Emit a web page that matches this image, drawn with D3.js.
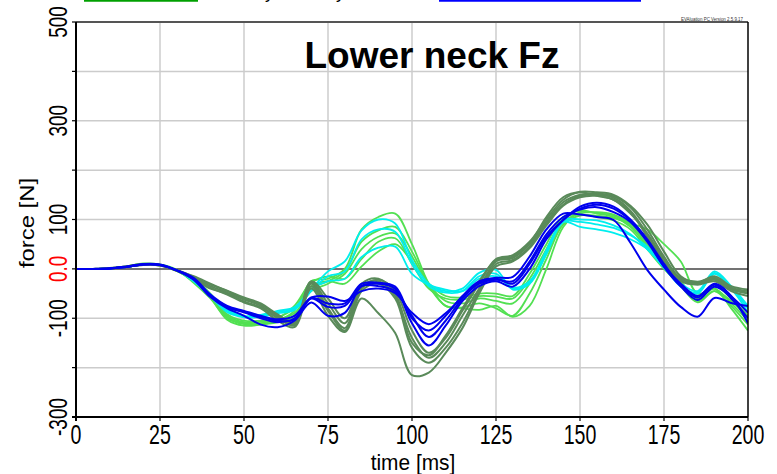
<!DOCTYPE html>
<html>
<head>
<meta charset="utf-8">
<script src="https://cdn.jsdelivr.net/npm/d3@7"></script>
<style>
  body { margin: 0; background: #fff; }
  svg { display: block; }
</style>
</head>
<body>
<div id="chart"></div>
<script>
// sample times [ms]
const time = [0, 5, 10, 15, 20, 25, 30, 35, 40, 45, 50, 55, 60, 65, 70, 75, 80, 85, 90, 95,
  100, 105, 110, 115, 120, 125, 130, 135, 140, 145, 150, 155, 160, 165, 170, 175, 180, 185, 190, 195, 200]

const xTicks = [0, 25, 50, 75, 100, 125, 150, 175, 200]
const yGrid = [-300, -200, -100, 0, 100, 200, 300, 400, 500]
const yTickLabels = [[500, '500'], [300, '300'], [100, '100'], [0, '0.0'], [-100, '-100'], [-300, '-300']]

// force [N], light green runs
const lightGreen = [
  [0,0,1,5,11,9,-2, -28,-60,-100,-112,-112,-105,-85,-25,-20,0, 80,105,112,50,-30,-75,-78,-70,-80,-95, -50,20,90,108,108,103,92,80,50,15, -50,-40,-80,-125],
  [0,0,1,5,10,8,-3, -26,-58,-103,-115,-113,-108,-95,-40,-25,-5, 55,78,85,35,-30,-65,-70,-60,-65,-70, -30,30,95,112,115,110,92,55,10,-25, -65,-45,-75,-113],
  [0,0,1,4,9,8,-4, -24,-55,-98,-110,-110,-103,-90,-45,-30,-10, 40,65,72,25,-35,-75,-80,-83,-75,-97, -75,0,85,115,113,108,88,50,5,-30, -60,-40,-70,-105],
  [0,0,1,4,9,8,-4, -22,-52,-95,-108,-107,-100,-75,-28,-15,-20, 20,55,62,10,-40,-60,-62,-55,-56,-60, -20,40,100,118,112,105,85,45,2,-35, -68,-45,-65,-100],
  [0,0,1,4,9,8,-3, -20,-50,-92,-105,-105,-98,-80,-35,-25,-30, 5,35,50,15,-30,-55,-58,-50,-50,-55, -10,50,105,110,105,98,80,40,0,-32, -55,-35,-60,-95],
]

const cyan = [
  [0,0,1,4,9,8,-3, -25,-55,-85,-97,-95,-88,-80,-42,-5,15, 78,100,92,18,-30,-45,-40,-8,-2,-42, -28,38,99,100,98,88,70,40,5,-35, -48,-8,-38,-80],
  [0,0,1,4,9,8,-3, -24,-55,-88,-98,-97,-90,-83,-45,-15,-5, 60,80,75,10,-35,-48,-45,-15,-10,-40, -30,30,95,95,90,83,68,45,4,-36, -50,-10,-40,-88],
  [0,0,1,4,9,8,-3, -22,-52,-82,-95,-93,-85,-78,-42,-25,-20, 24,43,45,-10,-32,-42,-45,-20,-15,-38, -25,35,95,85,80,73,60,40,2,-30, -45,-5,-35,-75],
]

const darkGreen = [
  [0,0,1,5,10,7,-3, -15,-30,-45,-60,-72,-95,-110,-30,-80,-120, -40,-22,-45,-125,-170,-140,-85,-30,20,28, 55,100,140,156,155,150,128,90,35,-15, -28,-15,-35,-42],
  [0,0,1,4,9,8,-3, -18,-35,-48,-62,-75,-100,-112,-28,-70,-110, -35,-25,-55,-140,-180,-150,-95,-40,15,22, 50,95,135,150,152,147,125,80,25,-20, -30,-20,-40,-48],
  [0,0,2,5,9,7,-4, -20,-40,-50,-66,-78,-98,-115,-35,-85,-125, -45,-30,-60,-160,-190,-160,-110,-45,10,18, 45,92,130,148,150,144,118,70,15,-25, -32,-25,-45,-55],
  [0,0,1,4,8,7,-2, -16,-32,-44,-58,-70,-92,-108,-25,-60,-100, -30,-20,-50,-150,-175,-135,-80,-25,18,25, 52,105,145,155,148,140,115,65,12,-18, -26,-18,-38,-45],
  [0,0,1,4,9,8,-4, -20,-38,-52,-68,-80,-105,-118,-40,-95,-128, -60,-90,-130,-215,-210,-170,-120,-50,5,15, 42,88,128,145,148,140,112,72,20,-22, -30,-22,-42,-50],
]

const blue = [
  [0,0,1,5,10,9,-3, -22,-57,-80,-95,-113,-118,-105,-68,-95,-89, -35,-30,-40,-110,-155,-115,-65,-35,-25,-36, 0,60,99,126,134,126,100,59,4,-36, -63,-36,-56,-89],
  [0,0,1,4,9,8,-3, -20,-55,-78,-88,-100,-108,-100,-60,-77,-75, -35,-35,-45,-95,-138,-105,-60,-28,-20,-30, 10,65,99,122,130,122,98,60,10,-33, -58,-32,-60,-100],
  [0,0,1,4,9,8,-3, -18,-52,-75,-85,-95,-102,-95,-58,-56,-65, -45,-40,-49,-89,-112,-90,-57,-30,-22,-25, 15,70,105,120,125,115,95,55,5,-30, -55,-30,-55,-110],
  [0,0,1,4,9,8,-3, -20,-55,-77,-87,-97,-105,-103,-59,-70,-70, -30,-28,-36,-100,-125,-95,-55,-25,-18,-16, 25,80,112,110,105,99,53,-2,-42,-77, -97,-59,-69,-75],
]

const groups = [
  { runs: lightGreen, color: '#52e052', width: 1.8 },
  { runs: cyan, color: '#00eeee', width: 1.8 },
  { runs: darkGreen, color: '#5a8a5a', width: 2 },
  { runs: blue, color: '#0000ee', width: 2 },
]

const W = 777, H = 474
const plotLeft = 76, plotRight = 748, plotTop = 22, plotBottom = 417

const svg = d3.select('#chart').append('svg').attr('width', W).attr('height', H)
  .style('font-family', '"Liberation Sans", Arial, sans-serif')

const x = d3.scaleLinear().domain([0, 200]).range([plotLeft, plotRight])
const y = d3.scaleLinear().domain([-300, 500]).range([plotBottom, plotTop])

// legend strokes peeking in at the top edge
svg.append('line').attr('x1', 84).attr('x2', 198).attr('y1', 0.5).attr('y2', 0.5)
  .attr('stroke', '#00a000').attr('stroke-width', 2.5)
svg.append('line').attr('x1', 439).attr('x2', 641).attr('y1', 0.5).attr('y2', 0.5)
  .attr('stroke', '#0000ff').attr('stroke-width', 2.5)
svg.append('text').attr('x', 274).attr('y', -2).attr('text-anchor', 'end')
  .attr('font-size', 18).text('dummy')
svg.append('text').attr('x', 345).attr('y', -2).attr('text-anchor', 'end')
  .attr('font-size', 18).text('dummy')

// grid
svg.append('g').selectAll('line').data(xTicks.slice(1, -1)).join('line')
  .attr('x1', d => x(d)).attr('x2', d => x(d)).attr('y1', plotTop).attr('y2', plotBottom)
  .attr('stroke', '#cccccc').attr('stroke-width', 1.5)
svg.append('g').selectAll('line').data(yGrid.filter(d => d !== 0 && d !== 500 && d !== -300)).join('line')
  .attr('x1', plotLeft).attr('x2', plotRight).attr('y1', d => y(d)).attr('y2', d => y(d))
  .attr('stroke', '#cccccc').attr('stroke-width', 1.5)
svg.append('line').attr('x1', plotLeft).attr('x2', plotRight).attr('y1', y(0)).attr('y2', y(0))
  .attr('stroke', '#444').attr('stroke-width', 1.5)

// curves
svg.append('clipPath').attr('id', 'plot').append('rect')
  .attr('x', plotLeft).attr('y', plotTop).attr('width', plotRight - plotLeft).attr('height', plotBottom - plotTop)

const line = d3.line()
  .x((d, i) => x(time[i]))
  .y(d => y(d))
  .curve(d3.curveCatmullRom.alpha(0.5))

const curves = svg.append('g').attr('clip-path', 'url(#plot)')
groups.forEach(g => {
  curves.append('g').selectAll('path').data(g.runs).join('path')
    .attr('d', line)
    .attr('fill', 'none')
    .attr('stroke', g.color)
    .attr('stroke-width', g.width)
    .attr('stroke-linejoin', 'round')
})

// frame
svg.append('line').attr('x1', plotLeft).attr('x2', plotRight).attr('y1', plotTop).attr('y2', plotTop)
  .attr('stroke', '#555').attr('stroke-width', 2)
svg.append('line').attr('x1', plotRight).attr('x2', plotRight).attr('y1', plotTop).attr('y2', plotBottom)
  .attr('stroke', '#000').attr('stroke-width', 1.5)
svg.append('line').attr('x1', plotLeft).attr('x2', plotLeft).attr('y1', plotTop).attr('y2', plotBottom + 4)
  .attr('stroke', '#000').attr('stroke-width', 2)
svg.append('line').attr('x1', plotLeft - 4).attr('x2', plotRight).attr('y1', plotBottom).attr('y2', plotBottom)
  .attr('stroke', '#000').attr('stroke-width', 2)

// ticks
svg.append('g').selectAll('line').data(yGrid).join('line')
  .attr('x1', plotLeft - 4).attr('x2', plotLeft).attr('y1', d => y(d)).attr('y2', d => y(d))
  .attr('stroke', '#000').attr('stroke-width', 1.2)
svg.append('g').selectAll('line').data(xTicks).join('line')
  .attr('x1', d => x(d)).attr('x2', d => x(d)).attr('y1', plotBottom).attr('y2', plotBottom + 4)
  .attr('stroke', '#000').attr('stroke-width', 1.2)

// tick labels (condensed)
svg.append('g').selectAll('text').data(xTicks).join('text')
  .attr('transform', d => `translate(${x(d)},444) scale(0.7,1)`)
  .attr('text-anchor', 'middle').attr('font-size', 28).attr('fill', '#000')
  .text(d => d)

svg.append('g').selectAll('text').data(yTickLabels).join('text')
  .attr('transform', d => `translate(66.5,${y(d[0])}) rotate(-90) scale(0.73,1)`)
  .attr('text-anchor', 'middle').attr('font-size', 26)
  .attr('fill', d => d[0] === 0 ? '#ff0000' : '#000')
  .text(d => d[1])

// axis titles
svg.append('text').attr('transform', 'translate(413,470) scale(0.95,1)')
  .attr('text-anchor', 'middle').attr('font-size', 22).text('time [ms]')
svg.append('text').attr('transform', 'translate(34,223) rotate(-90)')
  .attr('text-anchor', 'middle').attr('font-size', 21)
  .attr('textLength', 90).attr('lengthAdjust', 'spacingAndGlyphs').text('force [N]')

// title
svg.append('text').attr('x', 432).attr('y', 68).attr('text-anchor', 'middle')
  .attr('font-size', 37).attr('font-weight', 'bold').text('Lower neck Fz')

// version stamp
svg.append('text').attr('x', 743).attr('y', 20.5).attr('text-anchor', 'end')
  .attr('font-size', 6).attr('textLength', 62).attr('lengthAdjust', 'spacingAndGlyphs')
  .attr('fill', '#333').text('EVAluation PC Version 2.5.9.17')
</script>
</body>
</html>
